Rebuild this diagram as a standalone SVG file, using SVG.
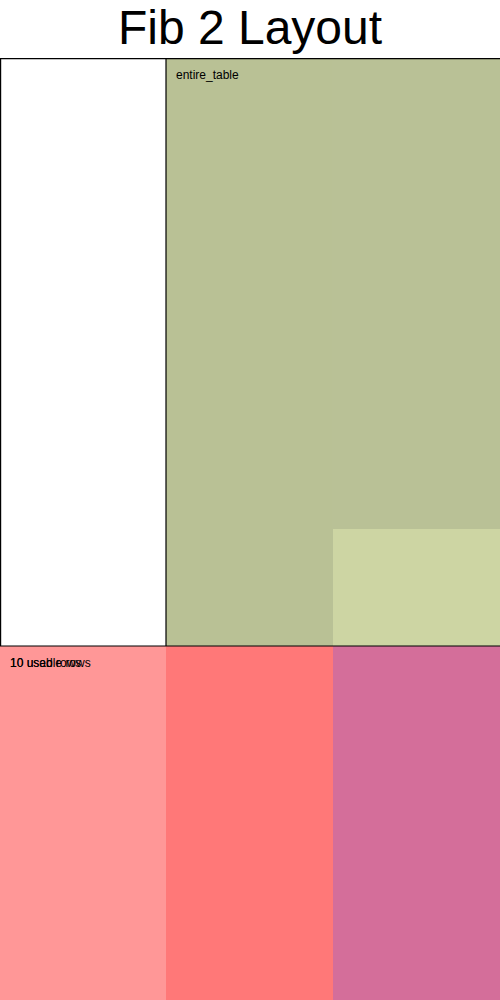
<svg xmlns="http://www.w3.org/2000/svg" width="500" height="1000" viewBox="0 0 500 1000">
<style>
.t{font-family:"Liberation Sans",Arial,sans-serif;fill:#000}
.lbl{font-size:12px}
.ln{stroke:#000;stroke-width:1.2;fill:none}
</style>
<rect width="500" height="1000" fill="#fff"/>
<text class="t" x="250" y="44" font-size="48" text-anchor="middle">Fib 2 Layout</text>
<g id="entire_table">
<rect x="166" y="58" width="334" height="588" fill="#b9c196"/>
<rect x="166" y="58" width="166" height="588" fill="#b9c195"/>
<rect x="333" y="529" width="167" height="117" fill="#cdd5a3"/>
<text class="t lbl" x="176" y="79">entire_table</text>
</g>
<g id="rows">
<rect x="0" y="646" width="166" height="354" fill="#ff9797"/>
<rect x="166" y="646" width="167" height="354" fill="#ff7878"/>
<rect x="333" y="646" width="167" height="354" fill="#d46e9a"/>
<text class="t lbl" x="10" y="667">10 usable rows</text>
<text class="t lbl" x="10" y="667">10 used rows</text>
</g>
<g id="connectors">
<path class="ln" d="M0.6 646 V58.6 H500 M166 58.6 V646 M0 646 H500"/>
</g>
</svg>
